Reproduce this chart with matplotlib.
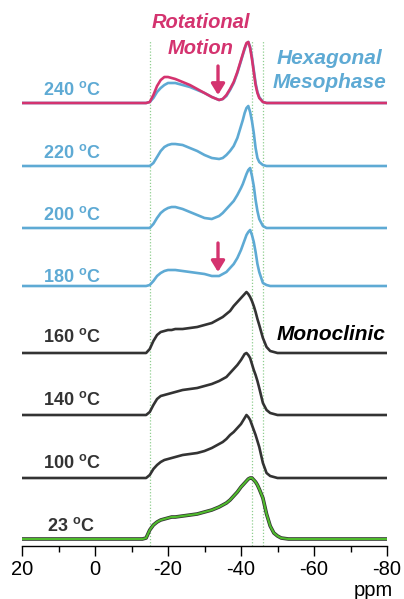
import matplotlib
matplotlib.use("Agg")
from matplotlib import pyplot as plt
from matplotlib.ticker import MultipleLocator
import numpy as np

plt.rcParams["font.family"] = ["Liberation Sans", "DejaVu Sans"]
plt.rcParams["axes.unicode_minus"] = False
plt.rcParams["mathtext.fontset"] = "custom"
plt.rcParams["mathtext.bf"] = "Liberation Sans:bold"
plt.rcParams["mathtext.rm"] = "Liberation Sans"

BLUE = "#5eaad4"
PINK = "#d4336f"
GREEN = "#4fbb2c"
DARK = "#333333"

# shared chemical shift grid (ppm)
ppm = [20, -13, -14, -15, -16, -17, -18, -19, -20, -21, -22, -24, -26, -28, -30,
       -32, -34, -35, -36, -37, -38, -39, -40, -40.5, -41, -41.5, -42, -42.5,
       -43, -43.5, -44, -44.5, -45, -46, -47, -48, -49, -50, -51, -53, -80]

# intensities (arbitrary units)
i240_pink = [0, 0, 0, 1, 8, 17, 23, 26, 26, 25, 24, 21, 18, 14, 10,
             6, 3, 4, 8, 14, 21, 31, 43, 49, 55, 60, 61, 55,
             44, 31, 18, 10, 5, 1, 0, 0, 0, 0, 0, 0, 0]
i240 = [0, 0, 0, 1, 5, 11, 15, 18, 20, 20, 20, 18, 16, 13, 10,
        6, 3, 4, 7, 13, 20, 30, 42, 48, 54, 59, 61, 56,
        46, 33, 20, 11, 6, 1, 0, 0, 0, 0, 0, 0, 0]
i220 = [0, 0, 0, 0, 3, 9, 15, 19, 21, 22, 22, 21, 18, 15, 11,
        8, 7, 8, 11, 15, 20, 28, 40, 46, 53, 58, 60, 54,
        45, 33, 18, 8, 4, 1, 0, 0, 0, 0, 0, 0, 0]
i200 = [0, 0, 0, 0, 4, 10, 15, 18, 20, 21, 21, 19, 16, 13, 10,
        9, 12, 15, 19, 23, 27, 33, 40, 44, 49, 54, 58, 60,
        52, 42, 28, 17, 9, 2, 0, 0, 0, 0, 0, 0, 0]
i180 = [0, 0, 0, 1, 5, 10, 13, 15, 16, 16, 16, 15, 14, 13, 12,
        10, 10, 12, 14, 18, 22, 28, 36, 41, 46, 51, 54, 56,
        51, 44, 34, 22, 14, 3, 1, 0, 0, 0, 0, 0, 0]
i160 = [0, 0, 0, 4, 12, 18, 21, 22, 23, 23, 24, 24, 25, 26, 28,
        30, 34, 36, 39, 42, 47, 51, 55, 57, 59, 61, 59, 56,
        52, 47, 41, 34, 28, 15, 6, 2, 1, 0, 0, 0, 0]
i140 = [0, 0, 0, 3, 10, 16, 19, 20, 21, 22, 23, 25, 26, 27, 29,
        31, 34, 36, 38, 42, 46, 50, 55, 58, 61, 62, 60, 57,
        51, 45, 40, 34, 27, 12, 5, 2, 1, 0, 0, 0, 0]
i100 = [0, 0, 0, 3, 9, 13, 16, 18, 19, 20, 21, 23, 24, 25, 27,
        30, 34, 36, 39, 43, 46, 50, 54, 57, 60, 63, 61, 58,
        53, 48, 43, 37, 31, 15, 5, 2, 1, 0, 0, 0, 0]
i23 = [0, 0, 1, 9, 14, 17, 19, 20, 21, 22, 22, 23, 24, 25, 27,
       29, 32, 34, 36, 39, 43, 47, 52, 54, 56, 58, 60, 61,
       61, 59, 57, 54, 50, 41, 25, 13, 6, 3, 1, 0, 0]

temps = ["240", "220", "200", "180", "160", "140", "100", "23"]
traces = [i240, i220, i200, i180, i160, i140, i100, i23]
offsets = [443, 380, 318, 260, 193, 131, 68, 7]
label_y = [456, 393, 331, 269, 209, 146, 83, 20]
colors = [BLUE, BLUE, BLUE, BLUE, DARK, DARK, DARK, DARK]

marker_ppm = [-15, -43, -46]
arrow_ppm = -33.7

fig = plt.figure(figsize=(4.04, 5.99), dpi=100)
ax = fig.add_axes([22 / 404, 1 - 546 / 599, 365 / 404, 546 / 599])

for xm in marker_ppm:
    ax.plot([xm, xm], [0, 506], color="#8fce8f", lw=0.9, ls=(0, (1, 1.5)), zorder=1)

x = np.array(ppm)
for name, trace, off, ly, col in zip(temps, traces, offsets, label_y, colors):
    y = np.array(trace) + off
    if name == "23":
        ax.plot(x, y, color=DARK, lw=2.6, zorder=2)
        ax.plot(x, y, color=GREEN, lw=1.5, zorder=3)
    else:
        ax.plot(x, y, color=col, lw=1.9, zorder=2)
    lx = 13.2 if name == "23" else 14.3
    ax.text(lx, ly, name + r" $^{\mathbf{o}}$C", color=col, fontsize=13,
            fontweight="bold", ha="left", va="center")

ax.plot(x, np.array(i240_pink) + offsets[0], color=PINK, lw=1.9, zorder=4)

for top, tip in [(480, 451), (303, 274)]:
    ax.annotate("", xy=(arrow_ppm, tip), xytext=(arrow_ppm, top),
                arrowprops=dict(arrowstyle="-|>,head_length=0.65,head_width=0.4",
                                color=PINK, lw=2.4, shrinkA=0, shrinkB=0),
                zorder=5)

ax.text(-29, 523, "Rotational", color=PINK, fontsize=14.5, fontweight="bold",
        fontstyle="italic", ha="center", va="center")
ax.text(-29, 498, "Motion", color=PINK, fontsize=14.5, fontweight="bold",
        fontstyle="italic", ha="center", va="center")
ax.text(-64.2, 488, "Hexagonal", color=BLUE, fontsize=15, fontweight="bold",
        fontstyle="italic", ha="center", va="center")
ax.text(-64.2, 464, "Mesophase", color=BLUE, fontsize=15, fontweight="bold",
        fontstyle="italic", ha="center", va="center")
ax.text(-64.6, 211, "Monoclinic", color="black", fontsize=15, fontweight="bold",
        fontstyle="italic", ha="center", va="center")

ax.set_xlim(20, -80)
ax.set_ylim(0, 546)
for side in ["left", "right", "top"]:
    ax.spines[side].set_visible(False)
ax.spines["bottom"].set_linewidth(1.0)
ax.set_yticks([])
ax.xaxis.set_major_locator(MultipleLocator(20))
ax.xaxis.set_minor_locator(MultipleLocator(10))
ax.tick_params(axis="x", which="major", length=7, width=1, direction="out",
               labelsize=14.5, pad=3)
ax.tick_params(axis="x", which="minor", length=4, width=1, direction="out")

fig.text(393 / 404, 1 - 590 / 599, "ppm", fontsize=14.5, ha="right", va="center")

fig.savefig("out.png", dpi=100)
